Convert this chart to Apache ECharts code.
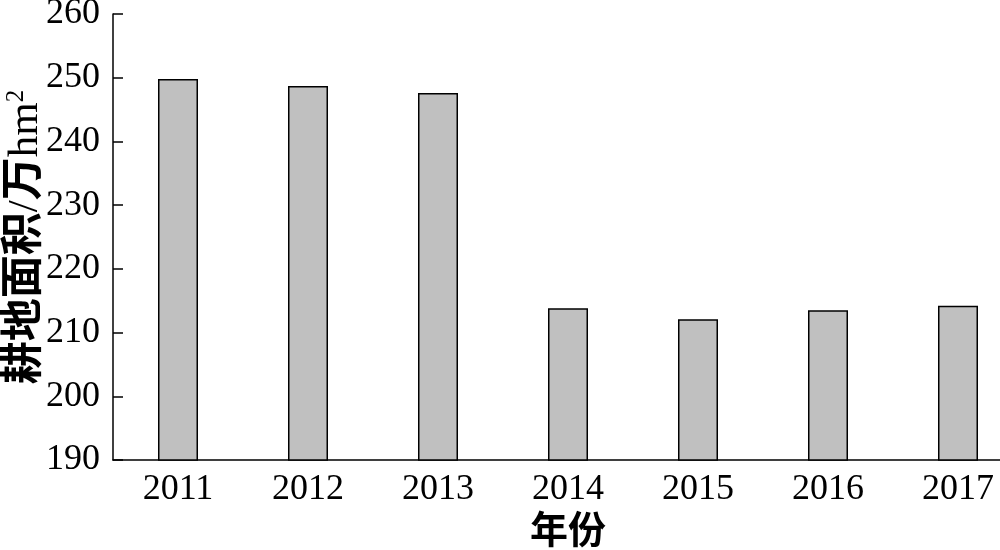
<!DOCTYPE html>
<html>
<head>
<meta charset="utf-8">
<script src="https://cdn.jsdelivr.net/npm/echarts@6/dist/echarts.min.js"></script>
<style>html,body{margin:0;padding:0;background:#fff;}#c{width:1000px;height:550px;}</style>
</head>
<body>
<div id="c"></div>
<script>
const categories = ['2011','2012','2013','2014','2015','2016','2017'];
const values = [249.8, 248.7, 247.6, 213.8, 212.1, 213.5, 214.2];
const yTicks = [190, 200, 210, 220, 230, 240, 250, 260];

const FONT = '"Liberation Serif", "Noto Sans CJK SC", serif';
const chart = echarts.init(document.getElementById('c'));
chart.setOption({
  animation: false,
  backgroundColor: '#fff',
  grid: { left: 113, top: 14, width: 910, height: 446, containLabel: false, outerBoundsMode: 'none' },
  xAxis: {
    type: 'category',
    data: categories,
    name: '年份',
    nameLocation: 'middle',
    nameGap: 54,
    nameMoveOverlap: false,
    nameTextStyle: { fontFamily: FONT, fontSize: 38, fontWeight: 'bold', color: '#000' },
    axisLine: { lineStyle: { color: '#000', width: 1.5 } },
    axisTick: { show: false },
    axisLabel: { fontFamily: FONT, fontSize: 36, color: '#000', margin: 12 },
    splitLine: { show: false }
  },
  yAxis: {
    type: 'value',
    min: yTicks[0],
    max: yTicks[yTicks.length - 1],
    interval: 10,
    name: '{c|耕地面积}{l|/}{c|万}{l|hm}{s|2}',
    nameLocation: 'middle',
    nameGap: 65,
    nameMoveOverlap: false,
    nameTextStyle: {
      fontFamily: FONT, fontSize: 43, color: '#000',
      rich: {
        c: { fontFamily: FONT, fontSize: 43, fontWeight: 'bold', color: '#000', lineHeight: 44 },
        l: { fontFamily: FONT, fontSize: 43, color: '#000', lineHeight: 44 },
        s: { fontFamily: FONT, fontSize: 25, color: '#000', verticalAlign: 'top', lineHeight: 44 }
      }
    },
    axisLine: { show: true, lineStyle: { color: '#000', width: 1.5 } },
    axisTick: { show: true, inside: true, length: 10, lineStyle: { color: '#000', width: 1.5 } },
    axisLabel: { fontFamily: FONT, fontSize: 36, color: '#000', margin: 13 },
    splitLine: { show: false }
  },
  series: [{
    type: 'bar',
    data: values,
    barWidth: 40,
    itemStyle: { color: '#c0c0c0', borderColor: '#000', borderWidth: 1.5 }
  }]
});
</script>
</body>
</html>
